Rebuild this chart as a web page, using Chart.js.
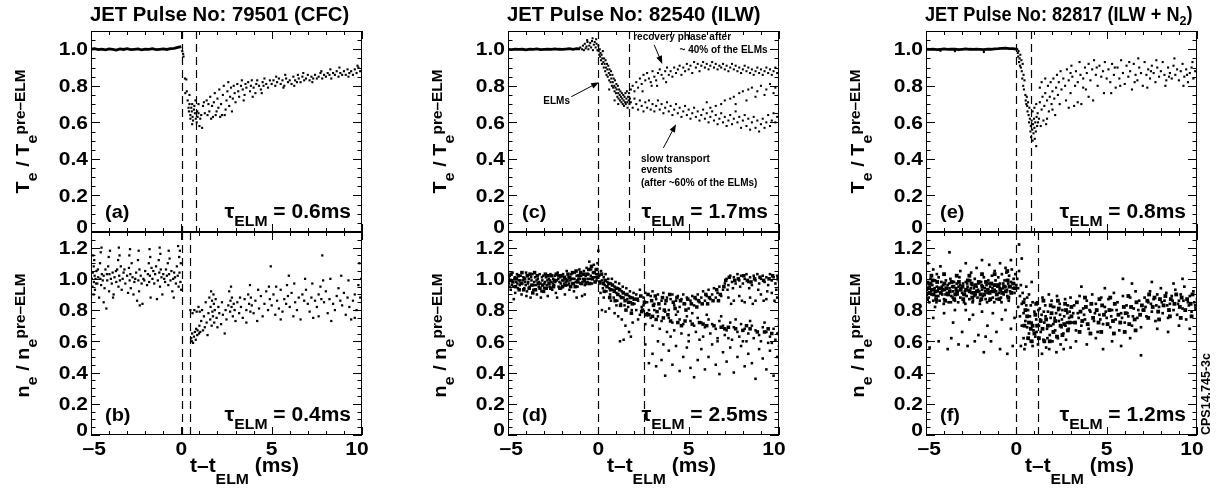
<!DOCTYPE html>
<html>
<head>
<meta charset="utf-8">
<script src="https://cdn.jsdelivr.net/npm/chart.js@4.4.1/dist/chart.umd.min.js"></script>
<style>
  body { margin: 0; background: #fff; width: 1220px; height: 492px; position: relative; overflow: hidden; }
  canvas { position: absolute; }
</style>
</head>
<body>
<script>
const FAM = "'Liberation Sans', Arial, sans-serif"

// axis ticks
const xTicks = [-5, 0, 5, 10]
const teTicks = [0, 0.2, 0.4, 0.6, 0.8, 1.0]
const neTicks = [0, 0.2, 0.4, 0.6, 0.8, 1.0, 1.2]

const titles = ['JET Pulse No: 79501 (CFC)', 'JET Pulse No: 82540 (ILW)', 'JET Pulse No: 82817 (ILW + N']
const tauTe = ['0.6', '1.7', '0.8']
const tauNe = ['0.4', '2.5', '1.2']

// pre-ELM Te traces (t, Te/Te_pre)
const teCFCpre = [-5,1.0,-4.8,1.003,-4.6,0.998,-4.4,1.001,-4.2,0.997,-4,1.002,-3.8,1.0,-3.6,0.996,-3.4,1.002,-3.2,0.999,-3,1.003,-2.8,0.998,-2.6,1.0,-2.4,1.002,-2.2,0.997,-2,1.001,-1.8,0.999,-1.6,1.003,-1.4,0.998,-1.2,1.0,-1,1.002,-0.8,0.999,-0.6,1.003,-0.4,1.005,-0.2,1.01,0,1.015]
const teILWpre = [-5,1.0,-4.8,0.998,-4.6,1.001,-4.4,0.999,-4.2,1.0,-4,0.997,-3.8,1.001,-3.6,0.999,-3.4,1.002,-3.2,0.998,-3,1.0,-2.8,1.001,-2.6,0.999,-2.4,1.002,-2.2,1.0,-2,0.999,-1.8,1.001,-1.6,1.003,-1.4,1.0,-1.2,1.004,-1,1.002]
const teN2pre = [-5,1.0,-4.8,0.999,-4.6,1.001,-4.4,0.998,-4.2,1.0,-4,1.002,-3.8,0.999,-3.6,1.0,-3.4,1.001,-3.2,0.998,-3,1.0,-2.8,1.002,-2.6,1.0,-2.4,0.999,-2.2,1.001,-2,1.0,-1.8,0.998,-1.6,1.001,-1.4,1.0,-1.2,1.002,-1,1.003,-0.8,1.005,-0.6,1.006,-0.4,1.004,-0.2,1.003,0,1.001]

// (a) Te, CFC
const teCFC = [0.05,0.99,0.1,0.975,0.12,0.96,0.2,0.84,0.28,0.835,0.3,0.77,0.22,0.76,
0.35,0.72,0.4,0.68,0.42,0.66,0.45,0.7,0.5,0.64,0.5,0.62,0.55,0.68,0.58,0.66,0.6,0.7,0.62,0.63,0.65,0.61,0.7,0.67,0.72,0.69,0.75,0.65,0.78,0.72,0.8,0.62,0.85,0.6,0.88,0.66,0.9,0.63,0.95,0.7,1.0,0.58,1.05,0.62,1.1,0.64,1.15,0.57,1.2,0.69,1.25,0.71,1.3,0.65,0.45,0.75,0.6,0.59,0.95,0.65,
1.4,0.72,1.5,0.7,1.55,0.66,1.6,0.74,1.7,0.69,1.75,0.63,1.8,0.71,1.85,0.76,1.9,0.64,2.0,0.73,2.05,0.68,2.1,0.78,2.15,0.63,2.2,0.7,2.3,0.75,2.35,0.8,2.4,0.64,2.5,0.72,2.55,0.77,2.6,0.82,2.7,0.74,2.75,0.79,2.8,0.66,2.9,0.8,2.95,0.76,3.0,0.71,1.65,0.62,2.25,0.64,2.45,0.67,2.65,0.69,1.45,0.64,1.95,0.66,2.85,0.73,
3.1,0.81,3.15,0.77,3.2,0.74,3.3,0.8,3.35,0.83,3.4,0.78,3.5,0.75,3.55,0.81,3.6,0.79,3.7,0.82,3.8,0.77,3.85,0.8,3.9,0.83,4.0,0.79,4.1,0.76,4.15,0.81,4.2,0.83,4.3,0.8,4.4,0.78,4.5,0.82,4.55,0.8,4.6,0.84,4.7,0.81,4.8,0.79,4.9,0.83,5.0,0.81,3.45,0.72,3.95,0.74,4.45,0.76,
5.1,0.83,5.2,0.8,5.3,0.82,5.4,0.84,5.5,0.81,5.6,0.83,5.7,0.8,5.8,0.84,5.9,0.82,6.0,0.83,6.1,0.81,6.2,0.85,6.3,0.83,6.4,0.82,6.5,0.84,6.6,0.82,6.7,0.85,6.8,0.83,6.9,0.84,7.0,0.86,7.1,0.83,7.2,0.85,7.3,0.84,7.4,0.86,7.5,0.84,7.6,0.85,7.7,0.87,7.8,0.84,7.9,0.86,8.0,0.85,8.1,0.87,8.2,0.86,8.3,0.84,8.4,0.87,8.5,0.86,8.6,0.88,8.7,0.85,8.8,0.87,8.9,0.86,9.0,0.88,9.1,0.86,9.2,0.89,9.3,0.87,9.4,0.88,9.5,0.86,9.6,0.89,9.7,0.87,9.8,0.9,9.9,0.88,10.0,0.89,5.25,0.85,5.75,0.86,6.25,0.8,6.75,0.87,7.25,0.82,7.75,0.88,8.25,0.89,8.75,0.9,9.25,0.85,9.75,0.91,5.65,0.79,6.45,0.86]

// (b) ne, CFC
const neCFC = [-4.95,1.0,-4.92,0.95,-4.9,1.04,-4.88,1.15,-4.86,0.9,-4.85,1.08,-4.84,0.98,-4.82,1.12,-4.8,1.02,-4.78,0.93,-4.75,1.0,-4.7,1.05,-4.65,0.97,-4.6,1.01,-4.55,0.88,-4.5,1.1,-4.48,1.0,-4.46,1.17,-4.44,0.96,-4.42,1.2,-4.4,1.03,-4.35,0.99,-4.3,1.02,-4.25,0.94,-4.2,1.06,-4.15,0.81,-4.1,0.99,-4.05,1.08,-4.02,1.14,-4.0,0.92,-3.98,1.03,-3.95,1.18,-3.9,1.0,-3.85,0.97,-3.8,1.04,-3.75,0.9,-3.7,1.01,-3.6,0.98,-3.55,1.06,-3.5,1.12,-3.48,0.95,-3.46,1.2,-3.44,1.02,-3.42,1.15,-3.4,0.99,-3.35,1.08,-3.3,0.93,-3.25,1.0,-3.2,1.04,-3.1,0.97,-3.0,1.02,-2.95,0.91,-2.9,1.07,-2.88,1.15,-2.86,0.99,-2.84,1.19,-2.82,1.03,-2.8,0.94,-2.75,1.1,-2.7,1.01,-2.6,0.98,-2.5,1.04,-2.45,0.86,-2.4,1.12,-2.38,0.99,-2.36,1.18,-2.34,0.92,-2.32,1.06,-2.3,0.83,-2.25,1.02,-2.2,0.97,-2.1,1.0,-2.0,1.05,-1.9,0.96,-1.85,1.03,-1.8,1.1,-1.78,0.98,-1.76,1.19,-1.74,1.02,-1.72,1.14,-1.7,0.88,-1.65,1.07,-1.6,1.0,-1.5,0.97,-1.45,1.03,-1.4,1.08,-1.3,0.99,-1.25,1.12,-1.22,1.04,-1.2,1.2,-1.18,0.95,-1.16,1.16,-1.14,1.06,-1.1,1.01,-1.05,0.9,-1.0,1.03,-0.9,0.98,-0.85,1.06,-0.8,1.02,-0.75,1.1,-0.72,0.96,-0.7,1.18,-0.68,1.03,-0.65,1.13,-0.6,0.99,-0.55,1.05,-0.5,0.92,-0.45,1.0,-0.4,1.04,-0.3,0.97,-0.25,1.08,-0.2,1.02,-0.18,1.21,-0.15,0.95,-0.12,1.14,-0.1,1.04,-0.08,1.18,-0.05,0.98,-0.03,1.1,-0.01,0.93,
-4.62,1.06,-4.12,1.03,-3.62,1.05,-3.15,1.06,-2.55,1.0,-2.05,0.99,-1.55,1.05,-0.95,1.0,-0.35,1.01,-4.72,0.97,-3.78,0.88,-2.65,0.9,-1.35,0.87,-0.42,0.88,-4.3,0.85,-2.15,0.84,
0.5,0.8,0.55,0.62,0.58,0.6,0.6,0.65,0.62,0.78,0.65,0.59,0.7,0.63,0.72,0.8,0.75,0.66,0.8,0.61,0.82,0.68,0.85,0.79,0.88,0.64,0.9,0.67,0.95,0.82,0.98,0.65,1.0,0.7,1.02,0.79,1.05,0.66,1.1,0.73,1.15,0.8,1.2,0.67,1.25,0.76,1.3,0.69,1.35,0.85,1.4,0.72,1.45,0.64,1.5,0.78,1.55,0.88,1.6,0.74,1.62,0.82,1.65,0.92,1.68,0.7,1.7,0.86,1.72,0.79,1.75,0.76,1.78,0.9,1.8,0.84,1.82,0.72,1.85,0.8,1.9,0.87,1.95,0.75,2.0,0.69,2.05,0.82,2.1,0.78,2.2,0.71,2.25,0.85,2.3,0.77,2.4,0.65,2.45,0.8,2.5,0.74,2.6,0.83,2.65,0.92,2.7,0.79,2.72,0.86,2.75,0.95,2.78,0.82,2.8,0.88,2.85,0.76,2.9,0.84,2.95,0.8,3.0,0.73,3.1,0.85,3.2,0.78,3.3,0.82,3.4,0.75,3.5,0.87,3.6,0.8,3.7,0.9,3.75,0.84,3.8,0.96,3.82,0.79,3.85,0.88,3.9,0.83,4.0,0.78,4.1,0.86,4.2,0.73,4.3,0.81,4.4,0.89,4.5,0.76,4.6,0.84,4.7,0.92,4.8,0.8,4.85,0.95,4.9,0.87,4.95,1.08,5.0,0.83,5.1,0.9,5.2,0.77,5.3,0.86,5.4,0.81,5.5,0.93,5.6,0.79,5.7,0.87,5.8,0.84,5.85,0.96,5.9,0.89,5.95,1.02,6.0,0.82,6.1,0.91,6.2,0.76,6.3,0.85,6.4,0.8,6.5,0.88,6.6,0.74,6.7,0.9,6.8,0.86,6.85,1.0,6.9,0.93,7.0,0.84,7.1,0.79,7.2,0.88,7.3,0.75,7.4,0.86,7.5,0.82,7.6,0.9,7.7,0.95,7.75,0.87,7.8,1.15,7.85,0.99,7.9,0.85,8.0,0.92,8.1,0.78,8.2,0.87,8.3,0.73,8.4,0.84,8.5,0.8,8.6,0.89,8.7,0.94,8.8,0.86,8.85,1.02,8.9,0.83,9.0,0.91,9.1,0.77,9.2,0.88,9.3,0.82,9.4,0.74,9.5,0.86,9.6,0.9,9.7,0.8,9.8,0.96,9.85,1.1,9.9,0.88,9.95,1.0,10.0,0.85,3.25,0.88,4.25,0.93,5.25,0.95,6.25,0.97,7.25,0.97,8.25,1.0,9.25,0.99,3.6,0.72,5.5,0.74,7.6,0.76,9.6,0.75]

// (c) Te, ILW
const teILW = [-1.0,1.01,-0.9,1.0,-0.85,1.02,-0.8,0.995,-0.75,1.03,-0.7,1.005,-0.65,1.015,-0.6,1.04,-0.55,1.0,-0.5,1.02,-0.45,1.035,-0.4,1.01,-0.35,1.045,-0.3,0.995,-0.25,1.025,-0.2,1.04,-0.15,1.01,-0.1,1.03,-0.05,0.995,0.0,1.02,-0.62,1.05,-0.32,1.06,-0.12,1.055,
0.02,0.99,0.05,0.97,0.08,1.0,0.1,0.96,0.12,0.98,0.15,0.94,0.18,0.97,0.2,0.92,0.22,0.95,0.25,0.99,0.28,0.93,0.3,0.9,0.32,0.95,0.35,0.92,0.38,0.88,0.4,0.94,0.42,0.9,0.45,0.86,0.48,0.92,0.5,0.89,0.52,0.85,0.55,0.91,0.58,0.87,0.6,0.83,0.62,0.89,0.65,0.86,0.68,0.82,0.7,0.88,0.72,0.84,0.75,0.8,0.78,0.86,0.8,0.82,0.82,0.79,0.85,0.84,0.88,0.8,0.9,0.77,0.92,0.83,0.95,0.79,0.98,0.76,1.0,0.81,1.02,0.78,1.05,0.74,1.08,0.8,1.1,0.76,1.12,0.73,1.15,0.78,1.18,0.75,1.2,0.72,1.22,0.77,1.25,0.74,1.28,0.71,1.3,0.76,1.32,0.73,1.35,0.7,1.38,0.75,1.4,0.72,1.42,0.69,1.45,0.74,1.48,0.71,1.5,0.76,1.52,0.7,1.55,0.73,1.58,0.77,1.6,0.71,1.62,0.68,1.65,0.74,1.68,0.72,1.7,0.76,1.72,0.7,1.75,0.73,0.6,0.78,0.9,0.72,1.1,0.7,
1.8,0.78,1.9,0.8,2.0,0.77,2.1,0.82,2.2,0.79,2.3,0.84,2.4,0.81,2.5,0.86,2.6,0.83,2.7,0.87,2.8,0.84,2.9,0.82,3.0,0.88,3.1,0.85,3.2,0.83,3.3,0.87,3.4,0.89,3.5,0.86,3.6,0.84,3.7,0.88,3.8,0.9,3.9,0.86,4.0,0.88,4.1,0.85,4.2,0.9,4.3,0.87,4.4,0.89,4.5,0.91,4.6,0.86,4.7,0.9,4.8,0.88,4.9,0.92,5.0,0.89,5.1,0.91,5.2,0.87,5.3,0.93,5.4,0.9,5.5,0.92,5.6,0.88,5.7,0.91,5.8,0.93,5.9,0.9,6.0,0.92,6.1,0.89,6.2,0.91,6.3,0.93,6.4,0.9,6.5,0.92,6.6,0.89,6.7,0.91,6.8,0.9,6.9,0.92,7.0,0.89,7.1,0.91,7.2,0.88,7.3,0.9,7.4,0.92,7.5,0.89,7.6,0.91,7.7,0.88,7.8,0.9,7.9,0.87,8.0,0.89,8.1,0.91,8.2,0.88,8.3,0.9,8.4,0.87,8.5,0.89,8.6,0.86,8.7,0.88,8.8,0.9,8.9,0.87,9.0,0.89,9.1,0.86,9.2,0.88,9.3,0.9,9.4,0.87,9.5,0.89,9.6,0.86,9.7,0.88,9.8,0.9,9.9,0.87,10.0,0.89,3.25,0.8,3.75,0.82,2.45,0.77,2.95,0.8,
1.8,0.71,1.9,0.68,2.0,0.73,2.1,0.7,2.2,0.67,2.3,0.72,2.4,0.69,2.5,0.66,2.6,0.71,2.7,0.68,2.8,0.72,2.9,0.67,3.0,0.7,3.1,0.66,3.2,0.69,3.3,0.72,3.4,0.67,3.5,0.7,3.6,0.65,3.7,0.68,3.8,0.71,3.9,0.66,4.0,0.69,4.1,0.64,4.2,0.67,4.3,0.7,4.4,0.65,4.5,0.68,4.6,0.63,4.7,0.66,4.8,0.69,4.9,0.64,5.0,0.67,5.1,0.62,5.2,0.65,5.3,0.68,5.4,0.63,5.5,0.66,5.6,0.61,5.7,0.64,5.8,0.67,5.9,0.62,6.0,0.65,6.1,0.6,6.2,0.63,6.3,0.66,6.4,0.61,6.5,0.64,6.6,0.59,6.7,0.62,6.8,0.65,6.9,0.6,7.0,0.63,7.1,0.58,7.2,0.61,7.3,0.64,7.4,0.59,7.5,0.62,7.6,0.66,7.7,0.6,7.8,0.63,7.9,0.57,8.0,0.61,8.1,0.64,8.2,0.58,8.3,0.62,8.4,0.56,8.5,0.6,8.6,0.63,8.7,0.57,8.8,0.61,8.9,0.55,9.0,0.59,9.1,0.62,9.2,0.57,9.3,0.6,9.4,0.64,9.5,0.58,9.6,0.61,9.7,0.65,9.8,0.6,9.9,0.63,10.0,0.66,
6.2,0.68,6.5,0.69,6.8,0.7,7.0,0.72,7.3,0.73,7.5,0.74,7.8,0.76,8.0,0.77,8.3,0.78,8.5,0.79,8.8,0.77,9.0,0.8,9.3,0.78,9.5,0.81,9.8,0.79,10.0,0.82,8.2,0.72,8.7,0.74,9.2,0.75,9.7,0.76,6.0,0.71,7.6,0.7]

// (d) ne, ILW
const neILW = [-4.95,0.97,-4.9,1.02,-4.85,0.93,-4.8,0.99,-4.75,1.04,-4.7,0.95,-4.65,1.0,-4.6,0.91,-4.55,0.98,-4.5,1.03,-4.45,0.94,-4.4,0.99,-4.35,0.96,-4.3,1.02,-4.25,0.9,-4.2,0.97,-4.15,1.01,-4.1,0.94,-4.05,0.98,-4.0,1.04,-3.95,0.92,-3.9,0.97,-3.85,1.0,-3.8,0.95,-3.75,0.88,-3.7,0.99,-3.65,1.03,-3.6,0.93,-3.55,0.98,-3.5,1.01,-3.45,0.96,-3.4,0.9,-3.35,1.0,-3.3,0.95,-3.25,1.03,-3.2,0.97,-3.15,0.92,-3.1,0.99,-3.05,1.02,-3.0,0.94,-2.95,0.98,-2.9,1.01,-2.85,0.96,-2.8,0.89,-2.75,1.0,-2.7,0.95,-2.65,1.03,-2.6,0.98,-2.55,0.93,-2.5,1.0,-2.45,0.96,-2.4,1.02,-2.35,0.91,-2.3,0.99,-2.25,1.04,-2.2,0.95,-2.15,0.98,-2.1,1.01,-2.05,0.94,-2.0,0.99,-1.95,1.03,-1.9,0.97,-1.85,0.9,-1.8,1.0,-1.75,1.05,-1.7,0.96,-1.65,1.01,-1.6,0.93,-1.55,0.99,-1.5,1.03,-1.45,0.97,-1.4,1.0,-1.35,0.92,-1.3,1.04,-1.25,0.98,-1.2,1.02,-1.15,0.95,-1.1,1.0,-1.05,1.06,-1.0,0.97,-0.95,1.02,-0.9,0.89,-0.85,1.0,-0.8,1.05,-0.75,0.96,-0.7,1.02,-0.65,1.07,-0.6,0.98,-0.55,1.03,-0.5,1.11,-0.45,1.0,-0.4,1.06,-0.35,0.97,-0.3,1.04,-0.25,1.09,-0.2,1.01,-0.15,1.06,-0.1,0.99,-0.05,1.1,0.0,1.18,0.0,1.03,
-4.92,0.95,-4.62,1.01,-4.32,0.99,-4.02,0.96,-3.72,1.01,-3.42,0.99,-3.12,1.01,-2.82,0.99,-2.52,0.97,-2.22,1.0,-1.92,0.99,-1.62,0.97,-1.32,1.0,-1.02,1.0,-0.72,1.0,-0.42,1.02,-0.12,1.03,-4.78,0.96,-4.48,0.97,-4.18,0.99,-3.88,0.98,-3.58,0.96,-3.28,0.98,-2.98,0.97,-2.68,0.99,-2.38,0.98,-2.08,0.97,-1.78,0.98,-1.48,1.0,-1.18,0.99,-0.88,0.98,-0.58,1.0,-0.28,1.01,-4.68,0.87,-3.98,0.89,-3.18,0.88,-2.28,0.88,-1.2,0.88,-0.75,0.9,
0.05,1.02,0.1,0.97,0.15,1.05,0.2,0.99,0.25,0.94,0.3,1.01,0.35,0.96,0.4,1.03,0.45,0.92,0.5,0.98,0.55,1.0,0.6,0.94,0.65,0.9,0.7,0.97,0.75,1.0,0.8,0.93,0.85,0.88,0.9,0.95,0.95,0.98,1.0,0.91,1.05,0.86,1.1,0.94,1.15,0.97,1.2,0.89,1.25,0.84,1.3,0.92,1.35,0.95,1.4,0.88,1.45,0.83,1.5,0.9,1.55,0.94,1.6,0.87,1.65,0.82,1.7,0.89,1.75,0.92,1.8,0.85,1.85,0.8,1.9,0.88,1.95,0.91,2.0,0.84,0.2,0.8,0.4,0.79,0.6,0.81,0.9,0.78,1.1,0.76,1.3,0.74,1.5,0.7,1.2,0.6,1.4,0.61,1.7,0.66,1.8,0.63,1.9,0.72,0.3,0.88,0.7,0.86,1.0,0.83,0.12,0.91,
2.1,0.9,2.2,0.86,2.3,0.93,2.4,0.82,2.5,0.88,2.6,0.91,2.7,0.85,2.8,0.8,2.9,0.89,3.0,0.92,3.1,0.84,3.2,0.87,3.3,0.9,3.4,0.81,3.5,0.86,3.6,0.91,3.7,0.84,3.8,0.88,3.9,0.8,4.0,0.87,4.1,0.9,4.2,0.83,4.3,0.86,4.4,0.89,4.5,0.82,4.6,0.87,4.7,0.9,4.8,0.84,4.9,0.88,5.0,0.81,5.1,0.86,5.2,0.89,5.3,0.83,5.4,0.87,5.5,0.9,5.6,0.85,5.7,0.88,5.8,0.92,5.9,0.86,6.0,0.89,6.1,0.93,6.2,0.87,6.3,0.9,6.4,0.94,6.5,0.88,6.6,0.91,6.7,0.95,6.8,0.89,6.9,0.93,7.0,0.97,
7.1,1.0,7.2,0.96,7.3,1.02,7.4,0.98,7.5,1.01,7.6,0.97,7.7,1.03,7.8,0.99,7.9,1.02,8.0,0.97,8.1,1.0,8.2,1.03,8.3,0.98,8.4,1.01,8.5,0.96,8.6,1.02,8.7,0.99,8.8,1.03,8.9,0.97,9.0,1.0,9.1,1.02,9.2,0.98,9.3,1.01,9.4,0.96,9.5,1.03,9.6,0.99,9.7,1.01,9.8,0.97,9.9,1.02,10.0,0.98,7.15,0.93,7.45,0.94,7.85,0.95,8.35,0.94,8.85,0.93,9.35,0.92,9.85,0.93,
7.2,0.88,7.5,0.86,7.8,0.89,8.1,0.85,8.4,0.88,8.7,0.86,9.0,0.9,9.3,0.87,9.6,0.91,9.9,0.88,7.35,0.84,7.95,0.86,8.55,0.84,9.15,0.86,9.75,0.86,
2.1,0.8,2.3,0.77,2.5,0.83,2.7,0.78,2.9,0.75,3.1,0.8,3.3,0.76,3.5,0.73,3.7,0.79,3.9,0.75,4.1,0.72,4.3,0.77,4.5,0.74,4.7,0.71,4.9,0.76,5.1,0.73,5.3,0.7,5.5,0.75,5.7,0.72,5.9,0.69,6.1,0.74,6.3,0.71,6.5,0.68,6.7,0.73,6.9,0.7,7.1,0.67,7.3,0.72,7.5,0.69,7.7,0.66,7.9,0.71,8.1,0.68,8.3,0.65,8.5,0.7,8.7,0.67,8.9,0.64,9.1,0.69,9.3,0.66,9.5,0.63,9.7,0.68,9.9,0.65,10.0,0.7,2.2,0.74,2.6,0.71,3.0,0.7,3.4,0.68,3.8,0.66,4.2,0.67,4.6,0.65,5.0,0.64,5.4,0.66,5.8,0.63,6.2,0.65,6.6,0.62,7.0,0.64,7.4,0.61,7.8,0.63,8.2,0.6,8.6,0.62,9.0,0.6,9.4,0.59,9.8,0.61,4.4,0.79,5.2,0.78,6.0,0.77,6.8,0.76,7.6,0.74,8.4,0.73,9.2,0.72,10.0,0.74,
2.6,0.58,2.8,0.46,3.0,0.52,3.2,0.44,3.3,0.6,3.5,0.48,3.7,0.38,3.9,0.54,4.1,0.45,4.3,0.57,4.5,0.41,4.7,0.5,4.9,0.56,5.1,0.43,5.3,0.37,5.5,0.48,5.7,0.55,5.9,0.42,6.1,0.5,6.3,0.58,6.5,0.45,6.7,0.39,6.9,0.53,7.1,0.47,7.3,0.56,7.5,0.4,7.7,0.5,7.9,0.57,8.1,0.44,8.3,0.52,8.5,0.46,8.7,0.36,8.9,0.55,9.1,0.49,9.3,0.42,9.5,0.54,9.7,0.38,9.9,0.5,10.0,0.57,3.6,0.58,5.0,0.6,6.6,0.6,8.0,0.6,9.6,0.59,4.0,0.63,5.6,0.61,7.2,0.62]

// (d) extra points inside the dense bands
const neILWcore = [-4.98,1.0,-4.88,0.99,-4.83,1.03,-4.73,0.98,-4.58,0.95,-4.53,1.0,-4.43,1.02,-4.38,0.93,-4.28,0.97,-4.23,1.04,-4.13,0.93,-4.08,1.0,-3.93,1.02,-3.83,0.94,-3.78,1.03,-3.68,0.96,-3.63,0.91,-3.53,1.04,-3.48,0.93,-3.38,1.02,-3.33,0.97,-3.23,0.94,-3.08,0.96,-3.03,0.92,-2.93,1.03,-2.88,0.94,-2.78,1.02,-2.73,0.97,-2.63,0.94,-2.58,1.02,-2.48,0.95,-2.43,0.99,-2.33,1.03,-2.18,1.02,-2.13,0.94,-2.03,1.02,-1.98,0.95,-1.88,1.01,-1.83,0.96,-1.73,0.99,-1.68,1.03,-1.58,1.01,-1.53,0.95,-1.43,1.04,-1.38,0.97,-1.28,0.95,-1.23,1.05,-1.13,0.98,-1.08,1.02,-0.98,1.04,-0.93,0.97,-0.83,1.03,-0.78,0.99,-0.68,0.97,-0.63,1.03,-0.53,1.06,-0.48,0.97,-0.38,1.08,-0.33,1.0,-0.23,1.04,-0.18,0.98,-0.08,1.06,-0.03,1.01,
0.08,0.98,0.18,1.03,0.28,0.97,0.38,0.99,0.48,0.95,0.58,0.97,0.68,0.93,0.78,0.96,0.88,0.92,0.98,0.94,1.08,0.9,1.18,0.93,1.28,0.88,1.38,0.91,1.48,0.86,1.58,0.9,1.68,0.85,1.78,0.88,1.88,0.84,1.98,0.87,0.33,0.92,0.63,0.88,0.93,0.86,1.23,0.83,1.53,0.8,1.83,0.78,
2.15,0.87,2.35,0.89,2.55,0.85,2.75,0.9,2.95,0.86,3.15,0.89,3.35,0.84,3.55,0.88,3.75,0.86,3.95,0.9,4.15,0.85,4.35,0.88,4.55,0.86,4.75,0.84,4.95,0.87,5.15,0.84,5.35,0.88,5.55,0.86,5.75,0.84,5.95,0.9,6.15,0.88,6.35,0.86,6.55,0.93,6.75,0.9,6.95,0.95,2.45,0.8,3.05,0.83,3.65,0.8,4.25,0.81,4.85,0.8,5.45,0.82,6.05,0.84,6.65,0.86,2.65,0.77,3.25,0.79,3.85,0.77,
7.05,0.99,7.25,1.01,7.55,0.99,7.75,1.0,8.05,1.02,8.25,0.99,8.45,0.98,8.65,1.0,8.95,1.01,9.15,0.99,9.45,1.0,9.65,1.02,9.95,1.0,
2.4,0.79,2.8,0.77,3.2,0.74,3.6,0.75,4.0,0.73,4.4,0.72,4.8,0.73,5.2,0.71,5.6,0.72,6.0,0.7,6.4,0.7,6.8,0.69,7.2,0.69,7.6,0.68,8.0,0.67,8.4,0.68,8.8,0.66,9.2,0.66,9.6,0.65,10.0,0.65,3.0,0.76,4.6,0.7,5.8,0.71,7.0,0.68,8.2,0.7,9.4,0.68]

// (e) Te, ILW + N2
const teN2 = [-3.4,0.99,-1.8,0.985,-4.2,0.992,
0.05,1.0,0.08,0.98,0.1,0.96,0.12,0.99,0.15,0.93,0.18,0.95,0.2,0.91,0.22,0.97,0.25,0.9,0.28,0.94,0.3,0.88,
0.33,0.84,0.35,0.92,0.38,0.8,0.4,0.86,0.42,0.78,0.45,0.83,0.5,0.75,0.52,0.72,0.55,0.7,0.58,0.74,0.6,0.69,
0.62,0.66,0.65,0.71,0.68,0.64,0.7,0.6,0.72,0.68,0.75,0.62,0.78,0.55,0.8,0.58,0.82,0.52,0.85,0.61,0.88,0.56,0.9,0.5,0.92,0.59,0.95,0.54,0.98,0.62,1.0,0.57,1.02,0.51,1.05,0.6,1.08,0.55,1.1,0.47,1.12,0.63,1.15,0.58,1.18,0.65,1.2,0.6,0.9,0.66,1.0,0.68,1.1,0.7,
1.25,0.62,1.3,0.71,1.35,0.58,1.4,0.67,1.45,0.74,1.5,0.61,1.55,0.69,1.6,0.76,1.65,0.59,1.7,0.72,1.75,0.8,1.8,0.66,1.85,0.74,1.9,0.82,1.95,0.7,2.0,0.77,2.05,0.84,2.1,0.73,2.15,0.64,2.2,0.79,2.25,0.86,2.3,0.75,2.35,0.82,2.4,0.7,2.45,0.88,2.5,0.78,1.4,0.82,1.6,0.84,1.3,0.79,1.7,0.62,2.0,0.67,
2.6,0.84,2.7,0.8,2.75,0.72,2.8,0.89,2.9,0.83,3.0,0.76,3.05,0.91,3.1,0.85,3.2,0.69,3.25,0.8,3.3,0.88,3.4,0.82,3.5,0.93,3.55,0.86,3.6,0.7,3.7,0.84,3.8,0.9,3.85,0.78,3.9,0.87,4.0,0.92,4.1,0.83,4.2,0.89,4.25,0.72,4.3,0.94,4.4,0.86,4.5,0.8,4.6,0.91,4.7,0.85,4.8,0.88,4.85,0.76,4.9,0.93,5.0,0.84,2.9,0.68,3.4,0.71,3.0,0.87,3.7,0.79,4.45,0.9,4.0,0.74,
5.1,0.89,5.2,0.82,5.3,0.92,5.4,0.86,5.5,0.79,5.6,0.9,5.7,0.84,5.8,0.94,5.9,0.87,6.0,0.81,6.1,0.91,6.2,0.85,6.3,0.88,6.4,0.78,6.5,0.92,6.6,0.86,6.7,0.83,6.8,0.9,6.9,0.87,7.0,0.8,7.1,0.93,7.2,0.86,7.3,0.89,7.4,0.84,7.5,0.91,7.6,0.87,7.7,0.82,7.8,0.9,7.9,0.85,8.0,0.88,8.1,0.93,8.2,0.86,8.3,0.83,8.4,0.9,8.5,0.87,8.6,0.84,8.7,0.91,8.8,0.86,8.9,0.89,9.0,0.83,9.1,0.88,9.2,0.92,9.3,0.85,9.4,0.89,9.5,0.82,9.6,0.87,9.7,0.9,9.8,0.84,9.9,0.88,10.0,0.82,5.25,0.76,5.75,0.8,6.25,0.93,6.75,0.95,7.25,0.79,7.75,0.94,8.25,0.8,8.75,0.95,9.25,0.8,9.75,0.93,5.45,0.9,6.55,0.82,7.45,0.88,8.45,0.85,9.45,0.86]

// (f) ne, ILW + N2
const neN2 = [-4.95,0.93,-4.9,0.98,-4.85,0.88,-4.8,0.95,-4.75,1.0,-4.7,0.9,-4.65,0.96,-4.6,0.86,-4.55,0.93,-4.5,0.99,-4.45,0.89,-4.4,0.95,-4.35,0.92,-4.3,1.01,-4.25,0.86,-4.2,0.94,-4.15,0.98,-4.1,0.9,-4.05,0.96,-4.0,0.87,-3.95,0.93,-3.9,0.99,-3.85,0.91,-3.8,0.96,-3.75,0.85,-3.7,0.94,-3.65,1.0,-3.6,0.89,-3.55,0.95,-3.5,0.92,-3.45,0.98,-3.4,0.86,-3.35,0.93,-3.3,0.97,-3.25,0.9,-3.2,0.95,-3.15,1.01,-3.1,0.88,-3.05,0.94,-3.0,0.91,-2.95,0.97,-2.9,0.85,-2.85,0.92,-2.8,0.98,-2.75,0.89,-2.7,0.95,-2.65,0.93,-2.6,0.87,-2.55,0.99,-2.5,0.91,-2.45,0.96,-2.4,0.86,-2.35,0.94,-2.3,1.0,-2.25,0.9,-2.2,0.95,-2.15,0.88,-2.1,0.97,-2.05,0.92,-2.0,0.86,-1.95,0.98,-1.9,0.93,-1.85,0.89,-1.8,1.01,-1.75,0.94,-1.7,0.87,-1.65,0.96,-1.6,0.91,-1.55,0.99,-1.5,0.86,-1.45,0.95,-1.4,0.92,-1.35,1.02,-1.3,0.88,-1.25,0.96,-1.2,0.93,-1.15,0.99,-1.1,0.87,-1.05,0.95,-1.0,1.01,-0.95,0.91,-0.9,0.97,-0.85,0.88,-0.8,1.03,-0.75,0.94,-0.7,0.9,-0.65,0.99,-0.6,0.95,-0.55,1.04,-0.5,0.89,-0.45,0.97,-0.4,1.02,-0.35,0.92,-0.3,0.98,-0.25,1.06,-0.2,0.94,-0.15,1.0,-0.1,0.91,-0.05,1.03,0.0,0.96,
-4.92,0.91,-4.72,0.97,-4.52,0.94,-4.32,0.89,-4.12,0.95,-3.92,0.9,-3.72,0.97,-3.52,0.88,-3.32,0.94,-3.12,0.96,-2.92,0.9,-2.72,0.97,-2.52,0.94,-2.32,0.89,-2.12,0.93,-1.92,0.96,-1.72,0.92,-1.52,0.97,-1.32,0.94,-1.12,0.92,-0.92,0.94,-0.72,0.97,-0.52,0.93,-0.32,0.95,-0.12,0.97,-4.82,0.85,-4.42,0.85,-4.02,0.84,-3.62,0.85,-3.22,0.85,-2.82,0.84,-2.42,0.85,-2.02,0.84,-1.62,0.85,-1.22,0.85,-0.82,0.85,-0.42,0.86,
-4.9,1.1,-4.6,1.06,-4.2,1.08,-3.7,1.17,-3.1,1.05,-2.8,1.1,-2.2,1.07,-1.9,1.12,-1.5,1.09,-1.2,1.05,-0.9,1.1,-0.6,1.07,-0.3,1.12,-4.4,1.03,-2.5,1.04,
-4.95,0.6,-4.8,0.56,-4.5,0.82,-4.3,0.6,-4.0,0.78,-3.8,0.55,-3.6,0.62,-3.4,0.8,-3.2,0.58,-3.0,0.66,-2.8,0.8,-2.7,0.57,-2.4,0.77,-2.3,0.6,-2.1,0.64,-1.9,0.79,-1.8,0.53,-1.6,0.7,-1.4,0.6,-1.3,0.78,-1.1,0.66,-0.9,0.55,-0.8,0.74,-0.6,0.8,-0.5,0.52,-0.3,0.68,-0.2,0.57,-0.1,0.75,-1.7,0.63,-2.6,0.74,-3.5,0.72,-4.6,0.75,
0.05,1.0,0.1,0.94,0.15,1.05,0.2,0.89,0.25,0.96,0.3,0.84,0.35,0.91,0.4,0.78,0.45,0.87,0.5,0.73,0.55,0.83,0.6,0.69,0.65,0.8,0.7,0.65,0.75,0.76,0.8,0.6,0.85,0.72,0.9,0.85,0.95,0.67,1.0,0.79,0.1,0.82,0.2,0.76,0.3,0.7,0.4,0.62,0.5,0.58,0.6,0.88,0.7,0.9,0.8,0.83,0.15,1.22,0.3,1.13,0.25,0.57,0.45,0.55,0.9,0.57,0.55,0.95,0.85,0.98,
1.05,0.63,1.1,0.74,1.15,0.85,1.2,0.58,1.25,0.7,1.3,0.81,1.35,0.66,1.4,0.77,1.45,0.88,1.5,0.61,1.55,0.72,1.6,0.83,1.65,0.56,1.7,0.68,1.75,0.79,1.8,0.9,1.85,0.64,1.9,0.75,1.95,0.86,2.0,0.6,2.05,0.71,2.1,0.82,2.15,0.67,2.2,0.78,2.25,0.89,2.3,0.62,2.35,0.73,2.4,0.84,2.45,0.58,2.5,0.69,2.55,0.8,2.6,0.65,2.65,0.76,2.7,0.87,2.75,0.61,2.8,0.72,2.85,0.83,2.9,0.68,2.95,0.79,3.0,0.88,1.12,0.66,1.32,0.74,1.52,0.79,1.72,0.62,1.92,0.7,2.12,0.75,2.32,0.8,2.52,0.74,2.72,0.7,2.92,0.75,1.22,0.8,1.62,0.76,2.02,0.82,2.42,0.77,2.82,0.78,1.42,0.52,1.82,0.55,2.22,0.53,2.62,0.55,3.0,0.56,
3.1,0.72,3.2,0.83,3.3,0.67,3.4,0.78,3.5,0.89,3.6,0.7,3.7,0.81,3.8,0.74,3.9,0.86,4.0,0.68,4.1,0.79,4.2,0.9,4.3,0.73,4.4,0.84,4.5,0.66,4.6,0.77,4.7,0.88,4.8,0.71,4.9,0.82,5.0,0.75,5.1,0.87,5.2,0.69,5.3,0.8,5.4,0.91,5.5,0.74,5.6,0.85,5.7,0.67,5.8,0.78,5.9,0.89,6.0,0.72,6.1,0.83,6.2,0.76,6.3,0.88,6.4,0.7,6.5,0.81,6.6,0.92,6.7,0.75,6.8,0.86,6.9,0.69,7.0,0.8,3.15,0.78,3.45,0.75,3.75,0.77,4.05,0.8,4.35,0.78,4.65,0.74,4.95,0.79,5.25,0.76,5.55,0.8,5.85,0.75,6.15,0.78,6.45,0.76,6.75,0.8,3.3,0.6,3.9,0.58,4.4,0.62,4.8,0.55,5.3,0.6,5.8,0.57,6.3,0.62,6.9,0.51,5.9,1.0,3.6,0.95,6.4,0.97,4.9,0.94,
7.1,0.88,7.2,0.76,7.3,0.85,7.4,0.92,7.5,0.79,7.6,0.87,7.7,0.73,7.8,0.9,7.9,0.82,8.0,0.94,8.1,0.78,8.2,0.86,8.3,0.91,8.4,0.75,8.5,0.84,8.6,0.89,8.7,0.8,8.8,0.93,8.9,0.77,9.0,0.86,9.1,0.9,9.2,0.81,9.3,0.95,9.4,0.74,9.5,0.85,9.6,0.89,9.7,0.79,9.8,0.92,9.9,0.83,10.0,0.87,7.15,0.82,7.45,0.84,7.75,0.83,8.05,0.85,8.35,0.83,8.65,0.86,8.95,0.84,9.25,0.86,9.55,0.83,9.85,0.85,7.8,0.68,8.4,0.66,9.0,0.7,9.6,0.68,7.5,0.98,9.2,1.0,8.7,0.97]

// (f) extra points inside the dense bands
const neN2core = [-4.98,0.9,-4.88,0.94,-4.83,0.97,-4.78,0.91,-4.68,0.93,-4.63,0.99,-4.58,0.9,-4.48,0.92,-4.38,0.98,-4.28,0.94,-4.18,0.91,-4.08,0.93,-3.98,0.97,-3.88,0.94,-3.78,0.9,-3.68,0.92,-3.58,0.98,-3.48,0.95,-3.38,0.9,-3.28,0.92,-3.18,0.98,-3.08,0.93,-2.98,0.95,-2.88,0.9,-2.78,0.93,-2.68,0.99,-2.58,0.92,-2.48,0.97,-2.38,0.91,-2.28,0.96,-2.18,0.92,-2.08,0.98,-1.98,0.9,-1.88,0.95,-1.78,0.9,-1.68,0.98,-1.58,0.93,-1.48,0.91,-1.38,0.97,-1.28,0.92,-1.18,0.96,-1.08,0.9,-0.98,0.96,-0.88,0.93,-0.78,0.91,-0.68,0.95,-0.58,0.92,-0.48,0.99,-0.38,0.95,-0.28,0.91,-0.18,0.97,-0.08,0.94,-4.94,0.87,-4.44,0.87,-3.94,0.86,-3.44,0.87,-2.94,0.87,-2.44,0.88,-1.94,0.87,-1.44,0.87,-0.94,0.87,-0.44,0.88,-4.7,1.02,-4.0,1.03,-3.3,1.02,-2.6,1.02,-1.9,1.03,-1.2,1.03,-0.5,1.05,
0.4,0.85,0.5,0.8,0.6,0.76,0.7,0.72,0.8,0.68,0.9,0.7,1.0,0.65,0.45,0.7,0.65,0.62,0.85,0.6,1.05,0.77,1.15,0.7,1.25,0.62,1.35,0.73,1.45,0.68,1.55,0.6,1.65,0.74,1.75,0.7,1.85,0.6,1.95,0.78,2.05,0.66,2.15,0.73,2.25,0.63,2.35,0.81,2.45,0.7,2.55,0.64,2.65,0.71,2.75,0.8,2.85,0.67,2.95,0.72,1.1,0.84,1.5,0.86,1.9,0.83,2.3,0.86,2.7,0.84,3.05,0.82,
3.05,0.76,3.25,0.72,3.35,0.85,3.55,0.79,3.65,0.73,3.85,0.82,3.95,0.71,4.15,0.84,4.25,0.75,4.45,0.8,4.55,0.72,4.75,0.83,4.85,0.77,5.05,0.71,5.15,0.8,5.35,0.73,5.45,0.84,5.65,0.77,5.75,0.72,5.95,0.82,6.05,0.78,6.25,0.71,6.35,0.82,6.55,0.74,6.65,0.85,6.85,0.77,6.95,0.83,3.5,0.66,4.1,0.65,4.7,0.66,5.4,0.65,6.0,0.66,6.6,0.67,3.8,0.88,4.6,0.87,5.2,0.88,6.2,0.89,
7.05,0.8,7.25,0.86,7.35,0.9,7.55,0.82,7.65,0.88,7.85,0.79,7.95,0.87,8.15,0.83,8.25,0.89,8.45,0.8,8.55,0.87,8.75,0.84,8.85,0.9,9.05,0.82,9.15,0.88,9.35,0.8,9.45,0.87,9.65,0.84,9.75,0.9,9.95,0.81,7.3,0.75,7.9,0.74,8.5,0.76,9.1,0.75,9.7,0.76]

// ELM markers (dashed): [t_ELM start, end]
const elmTe = [[0.05, 0.8], [0, 1.7], [0, 0.8]]
const elmNe = [[0.05, 0.5], [0, 2.5], [0, 1.2]]

const pairs = arr => {
  const out = []
  for (let i = 0; i < arr.length; i += 2) out.push({ x: arr[i], y: arr[i + 1] })
  return out
}

function rich(ctx, parts, x, y, align, rot, sx) {
  ctx.save()
  ctx.translate(x, y)
  if (rot) ctx.rotate(-Math.PI / 2)
  ctx.scale(sx || 1, 1)
  const ws = parts.map(p => { ctx.font = `bold ${p[1]}px ${FAM}`; return ctx.measureText(p[0]).width })
  const w = ws.reduce((s, v) => s + v, 0)
  let cx = align === 'left' ? 0 : align === 'right' ? -w : -w / 2
  ctx.fillStyle = '#000'
  ctx.textAlign = 'left'
  ctx.textBaseline = 'alphabetic'
  parts.forEach((p, i) => {
    ctx.font = `bold ${p[1]}px ${FAM}`
    ctx.fillText(p[0], cx, p[2] || 0)
    cx += ws[i]
  })
  ctx.restore()
}

function arrow(ctx, x1, y1, x2, y2) {
  const ang = Math.atan2(y2 - y1, x2 - x1)
  ctx.beginPath()
  ctx.moveTo(x1, y1)
  ctx.lineTo(x2 - 5 * Math.cos(ang), y2 - 5 * Math.sin(ang))
  ctx.stroke()
  ctx.beginPath()
  ctx.moveTo(x2, y2)
  ctx.lineTo(x2 - 8 * Math.cos(ang) + 3 * Math.sin(ang), y2 - 8 * Math.sin(ang) - 3 * Math.cos(ang))
  ctx.lineTo(x2 - 8 * Math.cos(ang) - 3 * Math.sin(ang), y2 - 8 * Math.sin(ang) + 3 * Math.cos(ang))
  ctx.closePath()
  ctx.fill()
}

const decor = {
  id: 'decor',
  afterDatasetsDraw(chart, args, o) {
    const { ctx, chartArea: a } = chart
    const x = chart.scales.x, y = chart.scales.y
    ctx.save()
    ctx.strokeStyle = '#000'
    ctx.fillStyle = '#000'

    // ELM markers
    ctx.lineWidth = 1.2
    ctx.setLineDash([8, 5])
    o.dash.forEach(t => {
      const px = Math.round(x.getPixelForValue(t)) + 0.5
      ctx.beginPath(); ctx.moveTo(px, a.top); ctx.lineTo(px, a.bottom); ctx.stroke()
    })
    ctx.setLineDash([])

    // frame + inward ticks
    ctx.lineWidth = 1
    ctx.strokeRect(a.left + 0.5, a.top + 0.5, a.right - a.left - 1, a.bottom - a.top - 1)
    ctx.beginPath()
    for (let t = x.min; t <= x.max; t++) {
      const px = Math.round(x.getPixelForValue(t)) + 0.5
      const l = t % 5 ? 4 : 8
      ctx.moveTo(px, a.bottom); ctx.lineTo(px, a.bottom - l)
      ctx.moveTo(px, a.top); ctx.lineTo(px, a.top + l)
    }
    for (let k = 0; k * 0.05 <= y.max + 1e-9; k++) {
      const py = Math.round(y.getPixelForValue(k * 0.05)) + 0.5
      const l = k % 4 ? 4.5 : 9
      ctx.moveTo(a.left, py); ctx.lineTo(a.left + l, py)
      ctx.moveTo(a.right, py); ctx.lineTo(a.right - l, py)
    }
    ctx.stroke()

    // tick labels from the scales' own ticks
    const tf = 17.5, tsx = 1.2
    y.ticks.forEach(t => {
      const s = t.value === 0 ? '0' : t.value.toFixed(1)
      rich(ctx, [[s, tf]], a.left - 3, y.getPixelForValue(t.value) + 6.2 - (t.value === 0 ? 5 : 0), 'right', false, tsx)
    })
    if (o.row) {
      x.ticks.forEach((t, i) => {
        const s = t.value < 0 ? '−' + (-t.value) : '' + t.value
        const sh = i === 0 ? 3 : i === x.ticks.length - 1 ? -5 : 0
        rich(ctx, [[s, tf]], x.getPixelForValue(t.value) + sh, a.bottom + 19.5, 'center', false, tsx)
      })
    }

    const cy = (a.top + a.bottom) / 2
    if (o.title) {
      const parts = [[o.title, 19.5]]
      if (o.sub2) parts.push(['2', 13.5, 4], [')', 19.5])
      rich(ctx, parts, a.left - 1, a.top - 10, 'left', false, o.sub2 ? 0.93 : 1.04)
    }
    const q = o.ylab
    rich(ctx, [[q, 18], ['e', 15, 8], [' / ' + q, 18], ['e', 15, 8], ['pre–ELM', 14, -4]],
      a.left - 62.5, cy + (o.row ? 2 : 0), 'center', true, 1.1)
    rich(ctx, [[o.letter, 19]], a.left + 14, a.bottom - 14, 'left', false, 1.05)
    rich(ctx, [['τ', 21], ['ELM', 15, 8], [' = ' + o.tau + 'ms', 20]], a.right - 11, a.bottom - 14, 'right', false, 1.05)
    if (o.row) {
      rich(ctx, [['t–t', 20], ['ELM', 15, 12], [' (ms)', 20]], (a.left + a.right) / 2 + 18, a.bottom + 37, 'center', false, 1.05)
    }
    if (o.cps) rich(ctx, [[o.cps, 12.5]], a.right + 13, a.bottom, 'left', true, 1)

    // annotations in data coordinates
    ;(o.notes || []).forEach(n => {
      if (n.to) {
        ctx.lineWidth = 1
        arrow(ctx, x.getPixelForValue(n.x), y.getPixelForValue(n.y), x.getPixelForValue(n.to[0]), y.getPixelForValue(n.to[1]))
      } else {
        rich(ctx, [[n.t, 10]], x.getPixelForValue(n.x), y.getPixelForValue(n.y), n.align, false, 1)
      }
    })
    ctx.restore()
  }
}

const notesC = [
  { t: 'recovery phase after', x: 1.93, y: 1.051, align: 'left' },
  { t: '~ 40% of the ELMs', x: 9.37, y: 0.98, align: 'right' },
  { x: 3.09, y: 1.024, to: [3.54, 0.92] },
  { t: 'ELMs', x: -1.57, y: 0.70, align: 'right' },
  { x: -1.5, y: 0.74, to: [0.04, 0.82] },
  { t: 'slow transport', x: 2.36, y: 0.383, align: 'left' },
  { t: 'events', x: 2.36, y: 0.323, align: 'left' },
  { t: '(after ~60% of the ELMs)', x: 2.36, y: 0.252, align: 'left' },
  { x: 3.6, y: 0.46, to: [4.3, 0.59] }
]

Chart.defaults.font.family = FAM
Chart.defaults.color = '#000'

const colLeft = [0, 417, 835]
const colWidth = [376, 376, 385]
const panels = [
  { col: 0, row: 0, line: teCFCpre, dots: teCFC, r: 1.5, letter: '(a)' },
  { col: 0, row: 1, dots: neCFC, r: 1.6, letter: '(b)' },
  { col: 1, row: 0, line: teILWpre, dots: teILW, r: 1.45, letter: '(c)', notes: notesC },
  { col: 1, row: 1, dots: neILW, r: 1.8, core: neILWcore, cr: 2.5, letter: '(d)' },
  { col: 2, row: 0, line: teN2pre, dots: teN2, r: 1.5, letter: '(e)' },
  { col: 2, row: 1, dots: neN2, r: 1.9, core: neN2core, cr: 2.7, letter: '(f)', cps: 'CPS14.745-3c' }
]

panels.forEach(p => {
  const cv = document.createElement('canvas')
  const top = p.row ? 220 : 0, h = p.row ? 272 : 250, w = colWidth[p.col]
  cv.width = w; cv.height = h
  cv.style.left = colLeft[p.col] + 'px'; cv.style.top = top + 'px'
  document.body.appendChild(cv)
  const yT = p.row ? neTicks : teTicks
  const datasets = []
  if (p.line) datasets.push({ data: pairs(p.line), showLine: true, borderColor: '#000', borderWidth: 2.8, pointRadius: 0 })
  datasets.push({ data: pairs(p.dots), pointStyle: 'rect', pointRadius: p.r, backgroundColor: '#000', borderWidth: 0 })
  if (p.core) datasets.push({ data: pairs(p.core), pointStyle: 'rect', pointRadius: p.cr, backgroundColor: '#000', borderWidth: 0 })
  new Chart(cv, {
    type: 'scatter',
    data: { datasets },
    options: {
      responsive: false,
      animation: false,
      events: [],
      layout: { padding: { top: p.row ? 12 : 31, bottom: p.row ? 0 : 18, left: 0, right: w - 91 - 271 } },
      plugins: {
        legend: { display: false },
        tooltip: { enabled: false },
        decor: {
          row: p.row,
          title: p.row ? '' : titles[p.col],
          sub2: !p.row && p.col === 2,
          ylab: p.row ? 'n' : 'T',
          tau: p.row ? tauNe[p.col] : tauTe[p.col],
          dash: p.row ? elmNe[p.col] : elmTe[p.col],
          letter: p.letter,
          notes: p.notes || [],
          cps: p.cps || ''
        }
      },
      scales: {
        x: {
          type: 'linear', min: -5, max: 10,
          grid: { display: false }, border: { display: false },
          afterBuildTicks: s => { s.ticks = xTicks.map(v => ({ value: v })) },
          afterFit: s => { s.height = p.row ? 57 : 0 },
          ticks: { display: false }
        },
        y: {
          type: 'linear', min: 0, max: p.row ? 1.3 : 1.1,
          grid: { display: false }, border: { display: false },
          afterBuildTicks: s => { s.ticks = yT.map(v => ({ value: v })) },
          afterFit: s => { s.width = 91 },
          ticks: { display: false }
        }
      }
    },
    plugins: [decor]
  })
})
</script>
</body>
</html>
